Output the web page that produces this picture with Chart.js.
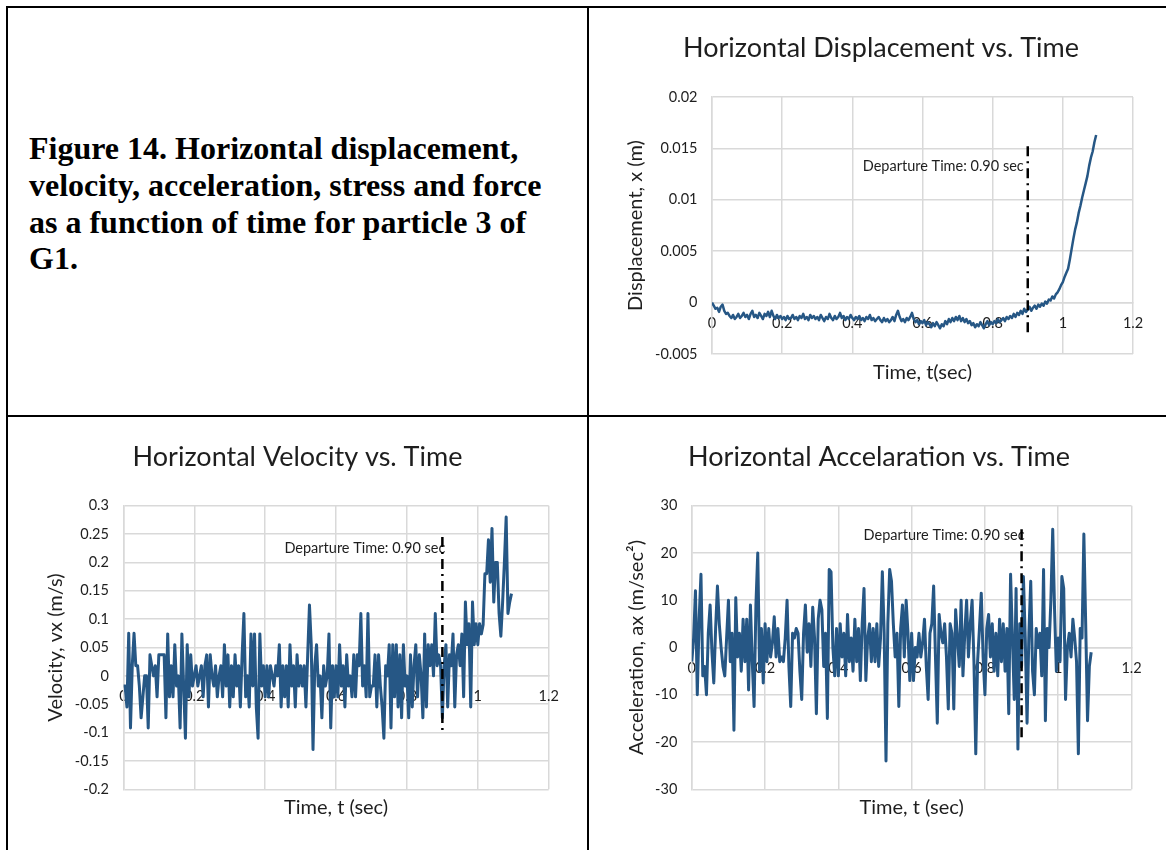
<!DOCTYPE html>
<html>
<head>
<meta charset="utf-8">
<title>Figure 14</title>
<script src="https://cdn.jsdelivr.net/npm/chart.js@4.4.1/dist/chart.umd.min.js"></script>
<style>
  html, body { margin: 0; padding: 0; background: #fff; }
  body { width: 1166px; height: 850px; position: relative; overflow: hidden; }
  .rule { position: absolute; background: #000; }
  .panel { position: absolute; }
  #caption {
    position: absolute; left: 29px; top: 130px;
    font-family: "Liberation Serif", "Times New Roman", serif;
    font-weight: bold; font-size: 32px; line-height: 36.8px; color: #000;
    white-space: nowrap;
  }
</style>
</head>
<body>
<div class="rule" style="left:6px;top:6px;width:1160px;height:2px"></div>
<div class="rule" style="left:6px;top:6px;width:2px;height:844px"></div>
<div class="rule" style="left:587px;top:6px;width:2px;height:844px"></div>
<div class="rule" style="left:6px;top:415px;width:1160px;height:2px"></div>

<div id="caption">Figure 14. Horizontal displacement,<br>velocity, acceleration, stress and force<br>as a function of time for particle 3 of<br>G1.</div>

<div class="panel" style="left:590px;top:10px"><canvas id="dispChart" width="576" height="406"></canvas></div>
<div class="panel" style="left:10px;top:419px"><canvas id="velChart" width="577" height="431"></canvas></div>
<div class="panel" style="left:590px;top:419px"><canvas id="accChart" width="576" height="431"></canvas></div>

<script>
// sampling interval of the recorded particle history (s)
const timeStep = 0.005;
const departureTime = 0.9;

// horizontal displacement x (m), one value per time step from t = 0
const displacement = [
  0, -0.0003, -0.0006, -0.0005, -0.0009, -0.0004, -0.0002, -0.0008, -0.0011, -0.0010,
  -0.0013, -0.0015, -0.0012, -0.0016, -0.0014, -0.0011, -0.0015, -0.0013, -0.0010, -0.0014,
  -0.0012, -0.0016, -0.0011, -0.0008, -0.0014, -0.0012, -0.0015, -0.0010, -0.0013, -0.0016,
  -0.0011, -0.0013, -0.0009, -0.0014, -0.0008, -0.0013, -0.0016, -0.0012, -0.0015, -0.0013,
  -0.0016, -0.0014, -0.0017, -0.0013, -0.0016, -0.0015, -0.0012, -0.0016, -0.0014, -0.0017,
  -0.0013, -0.0015, -0.0011, -0.0016, -0.0014, -0.0017, -0.0012, -0.0015, -0.0013, -0.0016,
  -0.0014, -0.0017, -0.0012, -0.0015, -0.0018, -0.0014, -0.0016, -0.0011, -0.0015, -0.0017,
  -0.0013, -0.0016, -0.0014, -0.0010, -0.0015, -0.0013, -0.0017, -0.0014, -0.0016, -0.0012,
  -0.0015, -0.0017, -0.0014, -0.0016, -0.0013, -0.0017, -0.0015, -0.0018, -0.0014, -0.0016,
  -0.0012, -0.0017, -0.0015, -0.0018, -0.0016, -0.0014, -0.0017, -0.0019, -0.0015, -0.0018,
  -0.0016, -0.0019, -0.0017, -0.0014, -0.0018, -0.0012, -0.0008, -0.0014, -0.0018, -0.0016,
  -0.0019, -0.0015, -0.0017, -0.0014, -0.0010, -0.0016, -0.0019, -0.0017, -0.0021, -0.0018,
  -0.0020, -0.0017, -0.0022, -0.0019, -0.0021, -0.0024, -0.0020, -0.0023, -0.0019, -0.0022,
  -0.0025, -0.0021, -0.0023, -0.0018, -0.0021, -0.0016, -0.0019, -0.0015, -0.0018, -0.0014,
  -0.0017, -0.0013, -0.0018, -0.0015, -0.0019, -0.0016, -0.0020, -0.0018, -0.0022, -0.0020,
  -0.0024, -0.0021, -0.0023, -0.0019, -0.0022, -0.0025, -0.0021, -0.0018, -0.0022, -0.0019,
  -0.0021, -0.0018, -0.0020, -0.0016, -0.0019, -0.0017, -0.0015, -0.0018, -0.0014, -0.0016,
  -0.0013, -0.0015, -0.0011, -0.0014, -0.0010, -0.0012, -0.0008, -0.0011, -0.0006, -0.0009,
  -0.0007, -0.0004, -0.0008, -0.0005, -0.0003, -0.0006, -0.0002, -0.0004, -0.0001, -0.0003,
  0.0001, -0.0001, 0.0003, 0.0002, 0.0006, 0.0004, 0.0008, 0.0010, 0.0013, 0.0017,
  0.0020, 0.0025, 0.0029, 0.0033, 0.0042, 0.0052, 0.0062, 0.0071, 0.0078, 0.0087,
  0.0094, 0.0102, 0.0109, 0.0116, 0.0123, 0.0133, 0.0141, 0.0147, 0.0156, 0.0163
];

// horizontal velocity vx (m/s)
const velocity = [
  -0.018, -0.018, -0.055, 0.075, -0.092, 0.018, 0.075, 0.018, 0.018, -0.018,
  -0.074, -0.037, 0.0, 0.0, -0.092, 0.037, 0.018, 0.0, 0.018, -0.037,
  0.037, 0.037, 0.037, 0.037, -0.074, 0.074, -0.037, 0.018, -0.037, 0.055,
  -0.018, 0.0, -0.092, 0.074, -0.018, -0.11, 0.055, -0.037, 0.037, -0.018,
  0.0, 0.018, -0.018, 0.0, 0.018, -0.037, 0.018, 0.037, -0.055, 0.037,
  0.0, -0.018, 0.018, -0.037, 0.0, 0.018, -0.037, 0.055, -0.018, 0.037,
  -0.055, 0.018, -0.037, 0.037, -0.018, 0.018, -0.055, 0.037, 0.11, -0.037,
  0.0, -0.055, 0.074, -0.018, 0.074, -0.055, -0.11, 0.074, -0.018, 0.018,
  -0.037, 0.018, -0.037, 0.018, 0.0, -0.018, 0.018, 0.0, 0.055, -0.055,
  0.018, -0.037, 0.018, -0.055, 0.055, -0.018, 0.018, -0.055, 0.037, -0.018,
  0.018, -0.018, 0.018, -0.055, 0.037, 0.125, 0.055, -0.13, 0.018, 0.055,
  -0.018, 0.0, -0.074, 0.018, -0.018, 0.0, 0.074, -0.092, 0.018, -0.037,
  0.018, -0.037, 0.055, -0.018, 0.018, -0.055, 0.037, -0.018, 0.0, -0.037,
  0.037, -0.037, 0.037, 0.018, 0.11, -0.018, 0.018, -0.037, 0.11, -0.037,
  -0.018, -0.018, 0.037, -0.055, 0.037, -0.018, -0.055, -0.11, 0.018, 0.0,
  0.055, -0.092, 0.055, -0.037, 0.055, -0.055, 0.037, -0.074, 0.055, -0.018,
  0.0, -0.074, 0.037, -0.055, 0.018, 0.055, -0.037, 0.037, 0.0, -0.074,
  0.074, -0.055, 0.055, 0.018, 0.055, 0.0, 0.11, 0.018, 0.037, 0.018,
  -0.074, 0.018, 0.055, -0.055, 0.037, 0.018, 0.074, -0.055, 0.037, 0.055,
  0.018, 0.074, -0.037, 0.13, 0.055, 0.092, -0.055, 0.13, 0.055, 0.092,
  0.055, 0.092, 0.074, 0.09, 0.18, 0.18, 0.24, 0.165, 0.26, 0.13,
  0.2, 0.2, 0.11, 0.07, 0.13, 0.2, 0.28, 0.11, 0.13, 0.145
];

// horizontal acceleration ax (m/sec^2)
const acceleration = [
  -3, 2, 12, -10, 6, 15.5, -6, -4, -10, 3, 9, -1, -7.5, 4, 13, 5, 0, -4, -6, 2,
  10, -3, 3, -17.5, 10.5, -2, 3, -5, 6, -3, 6, -9, 9, -3, -12.5, 9, 20, -5, 4, -7.5,
  5, -3, 4, -2, 1, 6.5, -2, 4, -3, -2, -3, 2, 10, -4, -12.5, 3, 2, 4, 3, -5,
  -11, 3, 9, -1, 5, -4, 8.5, 2, -14, 6, 10, 8, -4, 3, -15, 16.5, 16, 0, -6, 4,
  -6, 5, -2, 3, -6, 7, -3, 2, -5, 6, -3, 4, -7, 5, 12.5, -7, 2, 5, -3, 4,
  -3, 5, -4, 2, 16, 3, -24, 5, 16.5, 14, 5, -2, 3, -12.5, 4, 9, -2, 10, 3, -7,
  3, -7, 0, -2, 3, -2, 1, 6, -4, -11, 3, 5, 13, -2, -16, 7, 3, 1, 5, -2,
  -13, 5, 3, -13, 8, 2, -4, 10, -6, 3, 10, -2, 5, 10, -3, -22.5, -3, 4, 11.5, -2,
  -10, 4, 7, -2, 5, -5, 3, -6, 6, -3, 5, -5, 4, -14, 15.5, 2, -11, 12.5, -21.5, 5,
  -4, 15, 2, -16, 3, 14, -5, -10, 4, 0, 3, -6, 16.5, -15.5, 4, 0, 10, 25, 8, -5,
  2, -3, 15, 12.5, -11, 0, 3, -2, 6, 2, -3, -22.5, 4, 2, 24, 5, -15.5, -4, -1
];

// vertical extent of the departure marker in each panel (top, bottom)
const departureSpanDisp = [0.0152, -0.0031];
const departureSpanVel = [0.245, -0.104];
const departureSpanAcc = [25, -20];

// axis ranges and tick steps: [min, max, step]
const timeAxis = [0, 1.2, 0.2];
const dispAxis = [-0.005, 0.02, 0.005];
const velAxis = [-0.2, 0.3, 0.05];
const accAxis = [-30, 30, 10];

const LINE_BLUE = '#265785';
const GRID = '#d9d9d9';
const INK = '#1e1e1e';

function toPoints(values) {
  return values.map((v, i) => ({ x: Math.round(i * timeStep * 1000) / 1000, y: v }));
}

function fmt(v) { return String(+Number(v).toFixed(4)); }

// caption next to the departure marker, placed in data coordinates
const departureLabel = {
  id: 'departureLabel',
  beforeDatasetsDraw(chart, args, opts) {
    if (!opts || !opts.text) return;
    const { ctx, scales } = chart;
    ctx.save();
    ctx.font = '14.5px Lato';
    ctx.fillStyle = INK;
    ctx.textAlign = 'right';
    ctx.textBaseline = 'middle';
    ctx.fillText(opts.text, scales.x.getPixelForValue(opts.at) + opts.shift, scales.y.getPixelForValue(opts.level));
    ctx.restore();
  }
};

function buildChart(id, cfg) {
  const ctx = document.getElementById(id);
  return new Chart(ctx, {
    type: 'line',
    data: {
      datasets: [
        {
          data: toPoints(cfg.values),
          borderColor: LINE_BLUE,
          borderWidth: cfg.lineWidth,
          pointRadius: 0,
          tension: 0,
          borderJoinStyle: 'round',
          order: 2
        },
        {
          data: [{ x: departureTime, y: cfg.span[0] }, { x: departureTime, y: cfg.span[1] }],
          borderColor: '#000',
          borderWidth: 2.5,
          borderDash: [10, 5, 2, 5],
          pointRadius: 0,
          order: 1
        }
      ]
    },
    options: {
      responsive: false,
      animation: false,
      events: [],
      layout: { padding: { left: cfg.padLeft, right: cfg.padRight, top: 0, bottom: 0 } },
      plugins: {
        legend: { display: false },
        tooltip: { enabled: false },
        title: {
          display: true,
          text: cfg.title,
          color: INK,
          font: { family: 'Lato', size: 27, weight: 'normal' },
          padding: { top: 21.8, bottom: cfg.titleGap }
        },
        subtitle: {
          display: true,
          position: 'bottom',
          fullSize: false,
          text: cfg.xTitle,
          color: INK,
          font: { family: 'Lato', size: 20, weight: 'normal' },
          padding: { top: cfg.subTop, bottom: cfg.subBottom }
        },
        departureLabel: { text: 'Departure Time: 0.90 sec', at: departureTime, level: cfg.labelLevel, shift: cfg.labelShift }
      },
      scales: {
        x: {
          type: 'linear',
          position: { y: 0 },
          min: timeAxis[0], max: timeAxis[1],
          ticks: { stepSize: timeAxis[2], padding: 12, color: INK, font: { family: 'Lato', size: 14.5 }, callback: fmt, maxRotation: 0 },
          grid: { color: GRID, lineWidth: 1.5, drawTicks: false },
          border: { color: GRID, width: 1.5 },
          afterFit(scale) { scale.height = 0; }
        },
        y: {
          type: 'linear',
          min: cfg.yAxis[0], max: cfg.yAxis[1],
          ticks: { stepSize: cfg.yAxis[2], padding: 14.5, color: INK, font: { family: 'Lato', size: 14.5 }, callback: fmt },
          grid: { color: GRID, lineWidth: 1.5, drawTicks: false },
          border: { color: GRID, width: 1.5 },
          title: {
            display: true, text: cfg.yTitle, color: INK,
            font: { family: 'Lato', size: 20, weight: 'normal' },
            padding: { top: cfg.yTitlePad, bottom: 0 }
          },
          afterFit(scale) { scale.width = cfg.yWidth; }
        }
      }
    },
    plugins: [departureLabel]
  });
}

buildChart('dispChart', {
  title: 'Horizontal Displacement vs. Time',
  xTitle: 'Time, t(sec)',
  yTitle: 'Displacement, x (m)',
  values: displacement, span: departureSpanDisp, yAxis: dispAxis,
  lineWidth: 2.5, padLeft: 39, padRight: 33, yWidth: 83, yTitlePad: -5,
  titleGap: 32.8, subTop: 7, subBottom: 31,
  labelLevel: 0.0133, labelShift: -4
});

buildChart('velChart', {
  title: 'Horizontal Velocity vs. Time',
  xTitle: 'Time, t (sec)',
  yTitle: 'Velocity, vx (m/s)',
  values: velocity, span: departureSpanVel, yAxis: velAxis,
  lineWidth: 3, padLeft: 36.3, padRight: 38.3, yWidth: 77.1, yTitlePad: -2.3,
  titleGap: 32.5, subTop: 6.7, subBottom: 30,
  labelLevel: 0.225, labelShift: 3
});

buildChart('accChart', {
  title: 'Horizontal Accelaration vs. Time',
  xTitle: 'Time, t (sec)',
  yTitle: 'Acceleration, ax (m/sec²)',
  values: acceleration, span: departureSpanAcc, yAxis: accAxis,
  lineWidth: 3, padLeft: 36.5, padRight: 34.5, yWidth: 65.3, yTitlePad: -1.8,
  titleGap: 32.5, subTop: 6.7, subBottom: 30,
  labelLevel: 23.8, labelShift: 3
});
</script>
</body>
</html>
